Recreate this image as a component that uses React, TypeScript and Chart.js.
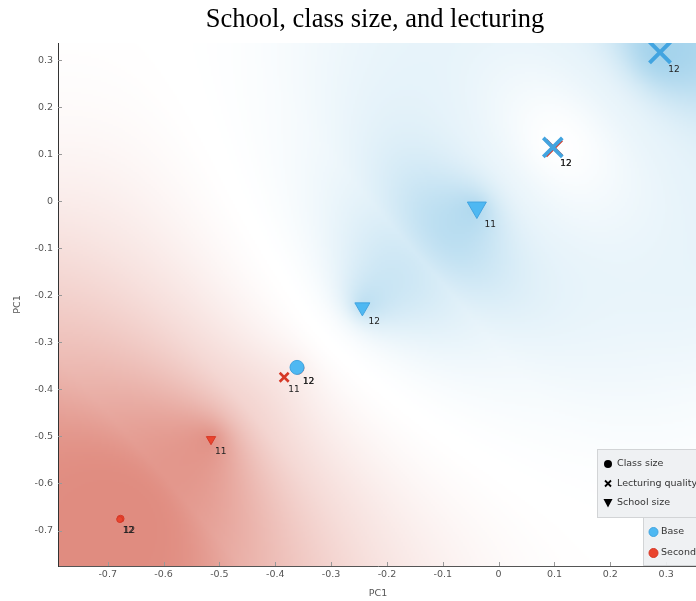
import React, { useEffect, useRef } from 'react';
import { Chart, registerables } from 'chart.js';

Chart.register(...registerables);

const TITLE = 'School, class size, and lecturing';
const X_TITLE = 'PC1';
const Y_TITLE = 'PC1';

const X_MIN = -0.789;
const X_MAX = 0.357;
const Y_MIN = -0.7755;
const Y_MAX = 0.337;

const xTicks = [-0.7, -0.6, -0.5, -0.4, -0.3, -0.2, -0.1, 0, 0.1, 0.2, 0.3];
const xTickLabels = ['-0.7', '-0.6', '-0.5', '-0.4', '-0.3', '-0.2', '-0.1', '0', '0.1', '0.2', '0.3'];
const yTicks = [-0.7, -0.6, -0.5, -0.4, -0.3, -0.2, -0.1, 0, 0.1, 0.2, 0.3];
const yTickLabels = ['-0.7', '-0.6', '-0.5', '-0.4', '-0.3', '-0.2', '-0.1', '0', '0.1', '0.2', '0.3'];

const classNames = ['Base', 'Secondary'];
const shapeNames = ['Class size', 'Lecturing quality', 'School size'];

// Base (blue) points
const baseX = [0.289, 0.097, -0.039, -0.244, -0.361];
const baseY = [0.317, 0.115, -0.013, -0.225, -0.353];
const baseShape = ['Lecturing quality', 'Lecturing quality', 'School size', 'School size', 'Class size'];
const baseSize = [21, 19, 19, 15, 14];
const baseLabel = ['12', '12', '11', '12', '12'];

// Secondary (red) points
const secX = [-0.384, -0.515, -0.677, 0.0988, -0.3595, -0.6785];
const secY = [-0.374, -0.506, -0.675, 0.1135, -0.3545, -0.6765];
const secShape = ['Lecturing quality', 'School size', 'Class size', 'Lecturing quality', 'Class size', 'Class size'];
const secSize = [9, 9.3, 7, 16, 12, 6];
const secLabel = ['11', '11', '12', '12', '12', '12'];

const BLUE_FILL = 'rgb(78,184,242)';
const BLUE_STROKE = 'rgb(66,164,224)';
const RED_FILL = 'rgb(234,68,46)';
const RED_STROKE = 'rgb(214,56,38)';
const BLUE_BG = [164, 211, 236];
const RED_BG = [224, 140, 128];

const styleOf = (s: string) => (s === 'Lecturing quality' ? 'crossRot' : s === 'School size' ? 'triangle' : 'circle');
const radiusOf = (s: string, size: number) =>
  s === 'Lecturing quality' ? size / 1.414 : s === 'School size' ? size / 1.732 : size / 2;

function makeDataset(label: string, xs: number[], ys: number[], shapes: string[], sizes: number[], fill: string, stroke: string) {
  return {
    label,
    data: xs.map((v, i) => ({ x: v, y: ys[i] })),
    pointStyle: shapes.map(styleOf),
    pointRadius: shapes.map((s, i) => radiusOf(s, sizes[i])),
    pointHoverRadius: shapes.map((s, i) => radiusOf(s, sizes[i])),
    pointRotation: shapes.map((s) => (s === 'School size' ? 180 : 0)),
    pointBackgroundColor: shapes.map((s) => (s === 'Lecturing quality' ? stroke : fill)),
    pointBorderColor: stroke,
    pointBorderWidth: shapes.map((s, i) => (s === 'Lecturing quality' ? 1.5 + sizes[i] * 0.12 : 1)),
    showLine: false,
  };
}

const densityPlugin = {
  id: 'density',
  beforeDraw(chart: any) {
    const { ctx, chartArea: a, scales } = chart;
    const xs = scales.x;
    const ys = scales.y;
    const pts: { px: number; py: number; c: number }[] = [];
    baseX.forEach((v, i) => pts.push({ px: xs.getPixelForValue(v), py: ys.getPixelForValue(baseY[i]), c: 0 }));
    secX.forEach((v, i) => pts.push({ px: xs.getPixelForValue(v), py: ys.getPixelForValue(secY[i]), c: 1 }));
    const step = 2;
    const w = Math.ceil((a.right - a.left) / step);
    const h = Math.ceil((a.bottom - a.top) / step);
    const off = document.createElement('canvas');
    off.width = w;
    off.height = h;
    const octx = off.getContext('2d')!;
    const img = octx.createImageData(w, h);
    const d2 = new Array(pts.length).fill(0);
    const sd = 140;
    for (let j = 0; j < h; j++) {
      const py = a.top + (j + 0.5) * step;
      for (let i = 0; i < w; i++) {
        const px = a.left + (i + 0.5) * step;
        let dmin = Infinity;
        for (let k = 0; k < pts.length; k++) {
          const dx = px - pts[k].px;
          const dy = py - pts[k].py;
          d2[k] = dx * dx + dy * dy;
          if (d2[k] < dmin) dmin = d2[k];
        }
        const s = 40 + 0.6 * Math.sqrt(dmin);
        let wb = 0, wr = 0, tot = 0;
        for (let k = 0; k < pts.length; k++) {
          const wk = Math.exp(-d2[k] / (2 * s * s));
          if (pts[k].c === 0) wb += wk; else wr += wk;
          tot += Math.exp(-d2[k] / (2 * sd * sd));
        }
        const p = wb / (wb + wr + 1e-300);
        const conf = Math.abs(2 * p - 1);
        const dens = 1 - Math.exp(-2.5 * tot);
        const alpha = Math.pow(conf, 1.5) * dens;
        const col = p >= 0.5 ? BLUE_BG : RED_BG;
        const o = (j * w + i) * 4;
        img.data[o] = 255 + alpha * (col[0] - 255);
        img.data[o + 1] = 255 + alpha * (col[1] - 255);
        img.data[o + 2] = 255 + alpha * (col[2] - 255);
        img.data[o + 3] = 255;
      }
    }
    octx.putImageData(img, 0, 0);
    ctx.save();
    ctx.beginPath();
    ctx.rect(a.left, a.top, a.right - a.left, a.bottom - a.top);
    ctx.clip();
    ctx.imageSmoothingEnabled = true;
    ctx.drawImage(off, a.left, a.top, w * step, h * step);
    ctx.restore();

    // title
    ctx.save();
    ctx.font = '26.5px "Liberation Serif"';
    ctx.fillStyle = '#000';
    ctx.textAlign = 'center';
    ctx.textBaseline = 'middle';
    ctx.fillText(TITLE, chart.width / 2, 20);
    ctx.restore();
  },
};

const labelPlugin = {
  id: 'pointLabels',
  afterDatasetsDraw(chart: any) {
    const { ctx } = chart;
    const sets = [
      { labels: secLabel, sizes: secSize, meta: chart.getDatasetMeta(1) },
      { labels: baseLabel, sizes: baseSize, meta: chart.getDatasetMeta(0) },
    ];
    ctx.save();
    ctx.font = '9px "DejaVu Sans"';
    ctx.fillStyle = '#222';
    ctx.textAlign = 'center';
    ctx.textBaseline = 'middle';
    sets.forEach((s) => {
      s.meta.data.forEach((el: any, i: number) => {
        const size = s.sizes[i];
        ctx.fillText(s.labels[i], el.x + 6.5 + 0.357 * size, el.y + 8.5 + 0.43 * size);
      });
    });
    ctx.restore();
  },
};

const decorPlugin = {
  id: 'decor',
  afterDraw(chart: any) {
    const { ctx, chartArea: a, scales } = chart;
    ctx.save();
    // inward tick marks
    ctx.strokeStyle = '#999';
    ctx.lineWidth = 1;
    xTicks.forEach((v) => {
      const px = Math.round(scales.x.getPixelForValue(v)) + 0.5;
      ctx.beginPath();
      ctx.moveTo(px, a.bottom);
      ctx.lineTo(px, a.bottom - 4);
      ctx.stroke();
    });
    yTicks.forEach((v) => {
      const py = Math.round(scales.y.getPixelForValue(v)) + 0.5;
      ctx.beginPath();
      ctx.moveTo(a.left, py);
      ctx.lineTo(a.left + 4, py);
      ctx.stroke();
    });

    // legend: shapes
    const font = '9.5px "DejaVu Sans"';
    const b1x = a.right - 100.5, b1y = a.bottom - 116.5, b1w = 116, b1h = 68;
    ctx.fillStyle = 'rgba(238,240,242,0.93)';
    ctx.strokeStyle = '#d2d4d6';
    ctx.fillRect(b1x, b1y, b1w, b1h);
    ctx.strokeRect(b1x, b1y, b1w, b1h);
    const b2x = a.right - 54.5, b2y = a.bottom - 48.5, b2w = 84, b2h = 48;
    ctx.fillRect(b2x, b2y, b2w, b2h);
    ctx.strokeRect(b2x, b2y, b2w, b2h);

    ctx.font = font;
    ctx.textBaseline = 'middle';
    ctx.textAlign = 'left';
    const mx = b1x + 10.5;
    const tx = b1x + 19.5;
    const rows = [b1y + 14.5, b1y + 34, b1y + 53.5];
    shapeNames.forEach((name, i) => {
      const ry = rows[i];
      ctx.fillStyle = '#000';
      ctx.strokeStyle = '#000';
      if (i === 0) {
        ctx.beginPath();
        ctx.arc(mx, ry, 4, 0, Math.PI * 2);
        ctx.fill();
      } else if (i === 1) {
        ctx.lineWidth = 1.8;
        ctx.beginPath();
        ctx.moveTo(mx - 3, ry - 3);
        ctx.lineTo(mx + 3, ry + 3);
        ctx.moveTo(mx + 3, ry - 3);
        ctx.lineTo(mx - 3, ry + 3);
        ctx.stroke();
      } else {
        ctx.beginPath();
        ctx.moveTo(mx - 4.5, ry - 4);
        ctx.lineTo(mx + 4.5, ry - 4);
        ctx.lineTo(mx, ry + 4.5);
        ctx.closePath();
        ctx.fill();
      }
      ctx.fillStyle = '#333';
      ctx.fillText(name, tx, ry);
    });

    const cols = [
      [BLUE_FILL, BLUE_STROKE],
      [RED_FILL, RED_STROKE],
    ];
    const rows2 = [b2y + 14.5, b2y + 35.5];
    classNames.forEach((name, i) => {
      const ry = rows2[i];
      ctx.beginPath();
      ctx.arc(b2x + 10, ry, 4.5, 0, Math.PI * 2);
      ctx.fillStyle = cols[i][0];
      ctx.fill();
      ctx.lineWidth = 1;
      ctx.strokeStyle = cols[i][1];
      ctx.stroke();
      ctx.fillStyle = '#333';
      ctx.fillText(name, b2x + 17.5, ry);
    });
    ctx.restore();
  },
};

export default function App() {
  const ref = useRef<HTMLCanvasElement | null>(null);
  useEffect(() => {
    if (!ref.current) return;
    const tickFont = { family: 'DejaVu Sans', size: 9.5 };
    const chart = new Chart(ref.current, {
      type: 'scatter',
      data: {
        datasets: [
          makeDataset(classNames[0], baseX, baseY, baseShape, baseSize, BLUE_FILL, BLUE_STROKE),
          makeDataset(classNames[1], secX, secY, secShape, secSize, RED_FILL, RED_STROKE),
        ] as any,
      },
      options: {
        responsive: false,
        animation: false,
        events: [],
        layout: { padding: { left: 0, right: 52, top: 43, bottom: 0 } },
        plugins: {
          legend: { display: false },
          tooltip: { enabled: false },
          title: { display: false },
        },
        scales: {
          x: {
            type: 'linear',
            min: X_MIN,
            max: X_MAX,
            afterBuildTicks: (s: any) => {
              s.ticks = xTicks.map((v) => ({ value: v }));
            },
            afterFit: (s: any) => {
              s.height = 35;
            },
            ticks: {
              callback: (_v: any, i: number) => xTickLabels[i],
              font: tickFont,
              color: '#555',
              padding: 3,
              maxRotation: 0,
              autoSkip: false,
            },
            grid: { display: false, drawTicks: false },
            border: { display: true, color: '#555', width: 1 },
            title: {
              display: true,
              text: X_TITLE,
              color: '#555',
              font: { family: 'DejaVu Sans', size: 9.5 },
              padding: { top: 0, bottom: 2 },
            },
          },
          y: {
            type: 'linear',
            min: Y_MIN,
            max: Y_MAX,
            afterBuildTicks: (s: any) => {
              s.ticks = yTicks.map((v) => ({ value: v }));
            },
            afterFit: (s: any) => {
              s.width = 58;
            },
            ticks: {
              callback: (_v: any, i: number) => yTickLabels[i],
              font: tickFont,
              color: '#555',
              padding: 5,
              autoSkip: false,
            },
            grid: { display: false, drawTicks: false },
            border: { display: true, color: '#333', width: 1 },
            title: {
              display: true,
              text: Y_TITLE,
              color: '#555',
              font: { family: 'DejaVu Sans', size: 9.5 },
              padding: { top: 12, bottom: 0 },
            },
          },
        },
      },
      plugins: [densityPlugin, labelPlugin, decorPlugin],
    });
    return () => chart.destroy();
  }, []);

  return (
    <div style={{ position: 'absolute', left: 0, top: 0, width: 696, height: 601, overflow: 'hidden', background: '#fff' }}>
      <canvas ref={ref} width={750} height={601} style={{ display: 'block', width: 750, height: 601 }} />
    </div>
  );
}
